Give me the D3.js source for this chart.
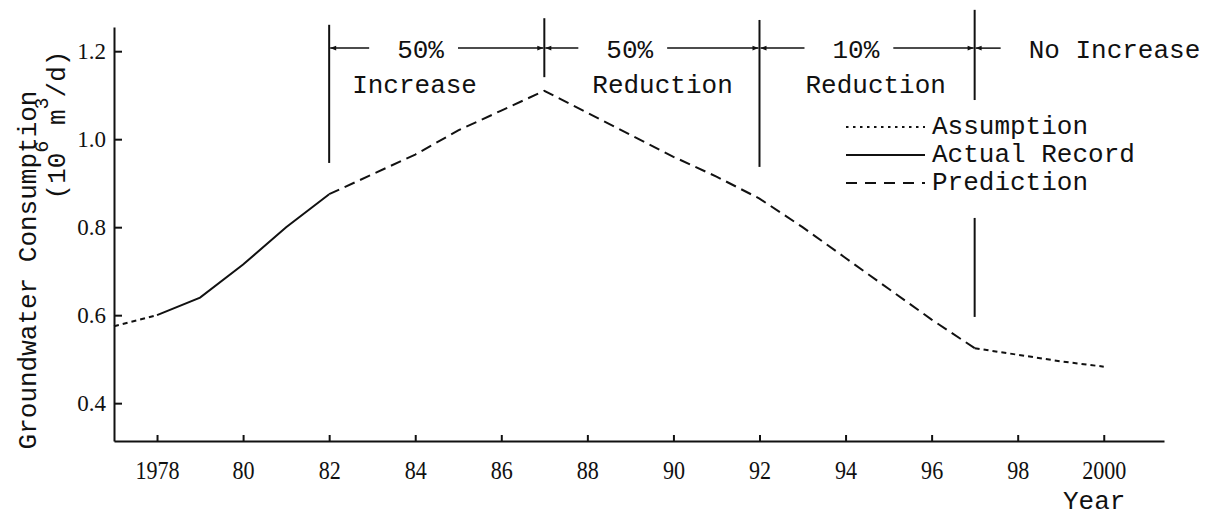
<!DOCTYPE html>
<html>
<head>
<meta charset="utf-8">
<script src="https://cdn.jsdelivr.net/npm/d3@7"></script>
<style>
    body { margin: 0; background: #fff; }
    svg { display: block; background: #fff; }
    .mono { font-family: "Liberation Mono", "DejaVu Sans Mono", monospace; font-size: 26px; fill: #111; }
    .axis path, .axis line { stroke: #111; stroke-width: 2; }
    .axis text { font-family: "Liberation Serif", "DejaVu Serif", serif; fill: #111; }
    .curve { fill: none; stroke: #111; stroke-width: 2; }
</style>
</head>
<body>
<div id="chart"></div>
<script>
// curve pieces
const assumeStartYears = [1977, 1978];
const assumeStartValues = [0.575, 0.60];

const recordYears = [1978, 1979, 1980, 1981, 1982];
const recordValues = [0.60, 0.64, 0.715, 0.80, 0.875];

const predictYears = [1982, 1983, 1984, 1985, 1986, 1987, 1988, 1989, 1990, 1991, 1992, 1993, 1994, 1995, 1996, 1997];
const predictValues = [0.875, 0.92, 0.965, 1.02, 1.065, 1.11, 1.06, 1.01, 0.96, 0.915, 0.865, 0.80, 0.73, 0.66, 0.59, 0.525];

const assumeEndYears = [1997, 1998, 1999, 2000];
const assumeEndValues = [0.525, 0.51, 0.495, 0.483];

const xTicks = [1978, 1980, 1982, 1984, 1986, 1988, 1990, 1992, 1994, 1996, 1998, 2000];
const xTickLabels = ["1978", "80", "82", "84", "86", "88", "90", "92", "94", "96", "98", "2000"];
const yTicks = [0.4, 0.6, 0.8, 1.0, 1.2];
const yTickLabels = ["0.4", "0.6", "0.8", "1.0", "1.2"];

// policy phases marked across the top
const phaseBounds = [1982, 1987, 1992, 1997];
const phaseTopLabels = ["50%", "50%", "10%", "No Increase"];
const phaseBottomLabels = ["Increase", "Reduction", "Reduction", ""];
const dividerTops = [1.26, 1.275, 1.271, 1.294];
const dividerBottoms = [0.946, 1.141, 0.937, 1.089];
const extraDividerYear = 1997;
const extraDivider = [0.821, 0.596];
const arrowLevel = 1.207;

const legendLabels = ["Assumption", "Actual Record", "Prediction"];

const width = 1216;
const height = 518;

const svg = d3
    .select("#chart")
    .append("svg")
    .attr("width", width)
    .attr("height", height);

const x = d3.scaleLinear().domain([1977, 2001.4]).range([114, 1164]);
const y = d3.scaleLinear().domain([0.314, 1.255]).range([441, 27]);

const defs = svg.append("defs");
defs.append("marker")
    .attr("id", "arrow")
    .attr("viewBox", "0 0 10 10")
    .attr("refX", 10)
    .attr("refY", 5)
    .attr("markerWidth", 9)
    .attr("markerHeight", 6)
    .attr("markerUnits", "userSpaceOnUse")
    .attr("orient", "auto-start-reverse")
    .append("path")
    .attr("d", "M0,1L10,5L0,9Z")
    .attr("fill", "#111");

// axes
const yAxis = svg
    .append("g")
    .attr("class", "axis")
    .attr("transform", "translate(" + x(1977) + ",0)")
    .call(d3.axisLeft(y)
        .tickValues(yTicks)
        .tickFormat((d, i) => yTickLabels[i])
        .tickSize(-8)
        .tickSizeOuter(0)
        .tickPadding(8));
yAxis.attr("font-family", null).attr("font-size", null);
yAxis.selectAll("text").style("font-size", "23px");

const xAxis = svg
    .append("g")
    .attr("class", "axis")
    .attr("transform", "translate(0," + y(0.314) + ")")
    .call(d3.axisBottom(x)
        .tickValues(xTicks)
        .tickFormat((d, i) => xTickLabels[i])
        .tickSize(-6)
        .tickSizeOuter(0)
        .tickPadding(20));
xAxis.attr("font-family", null).attr("font-size", null);
xAxis.selectAll("text")
    .style("font-size", "26px")
    .attr("transform", "scale(0.85,1)");

// curve
const line = d3
    .line()
    .x((d) => x(d[0]))
    .y((d) => y(d[1]));

function drawPiece(years, values, dash) {
    svg.append("path")
        .datum(d3.zip(years, values))
        .attr("class", "curve")
        .attr("stroke-dasharray", dash)
        .attr("d", line);
}

drawPiece(assumeStartYears, assumeStartValues, "5,4");
drawPiece(recordYears, recordValues, null);
drawPiece(predictYears, predictValues, "11,6");
drawPiece(assumeEndYears, assumeEndValues, "5,4");

// phase dividers
phaseBounds.forEach((yr, i) => {
    svg.append("line")
        .attr("x1", x(yr)).attr("x2", x(yr))
        .attr("y1", y(dividerTops[i])).attr("y2", y(dividerBottoms[i]))
        .attr("stroke", "#111")
        .attr("stroke-width", 2);
});
svg.append("line")
    .attr("x1", x(extraDividerYear)).attr("x2", x(extraDividerYear))
    .attr("y1", y(extraDivider[0])).attr("y2", y(extraDivider[1]))
    .attr("stroke", "#111")
    .attr("stroke-width", 2);

// phase labels with arrows
const topOffsets = [68, 62, 73, 54];
const bottomOffsets = [23, 48, 46, 0];
const ay = y(arrowLevel);

phaseBounds.forEach((yr, i) => {
    const left = x(yr);
    const tx = left + topOffsets[i];
    const t = svg.append("text")
        .attr("class", "mono")
        .attr("x", tx)
        .attr("y", ay + 10)
        .text(phaseTopLabels[i]);
    const tw = t.node().getComputedTextLength();

    svg.append("line")
        .attr("x1", tx - 28).attr("x2", left + 1)
        .attr("y1", ay).attr("y2", ay)
        .attr("stroke", "#111")
        .attr("stroke-width", 1.5)
        .attr("marker-end", "url(#arrow)");

    if (i < phaseBounds.length - 1) {
        svg.append("line")
            .attr("x1", tx + tw + 14).attr("x2", x(phaseBounds[i + 1]) - 1)
            .attr("y1", ay).attr("y2", ay)
            .attr("stroke", "#111")
            .attr("stroke-width", 1.5)
            .attr("marker-end", "url(#arrow)");
    }

    if (phaseBottomLabels[i]) {
        svg.append("text")
            .attr("class", "mono")
            .attr("x", left + bottomOffsets[i])
            .attr("y", ay + 45)
            .text(phaseBottomLabels[i]);
    }
});

// legend
const legendDash = ["2.5,4.5", null, "11,8"];
legendLabels.forEach((lab, i) => {
    const ly = 127 + i * 28;
    svg.append("line")
        .attr("x1", 846).attr("x2", 925)
        .attr("y1", ly).attr("y2", ly)
        .attr("stroke", "#111")
        .attr("stroke-width", 2)
        .attr("stroke-dasharray", legendDash[i]);
    svg.append("text")
        .attr("class", "mono")
        .attr("x", 932)
        .attr("y", ly + 7)
        .text(lab);
});

// axis titles
svg.append("text")
    .attr("class", "mono")
    .attr("x", 1063)
    .attr("y", 509)
    .text("Year");

svg.append("text")
    .attr("class", "mono")
    .attr("transform", "translate(36,270) rotate(-90)")
    .style("text-anchor", "middle")
    .text("Groundwater Consumption");

const unit = svg.append("text")
    .attr("class", "mono")
    .attr("transform", "translate(65,125) rotate(-90)")
    .style("text-anchor", "middle");
unit.append("tspan").text("(10");
unit.append("tspan").attr("dy", -17).style("font-size", "20px").text("6");
unit.append("tspan").attr("dy", 17).text(" m");
unit.append("tspan").attr("dy", -17).style("font-size", "20px").text("3");
unit.append("tspan").attr("dy", 17).text("/d)");
</script>
</body>
</html>
